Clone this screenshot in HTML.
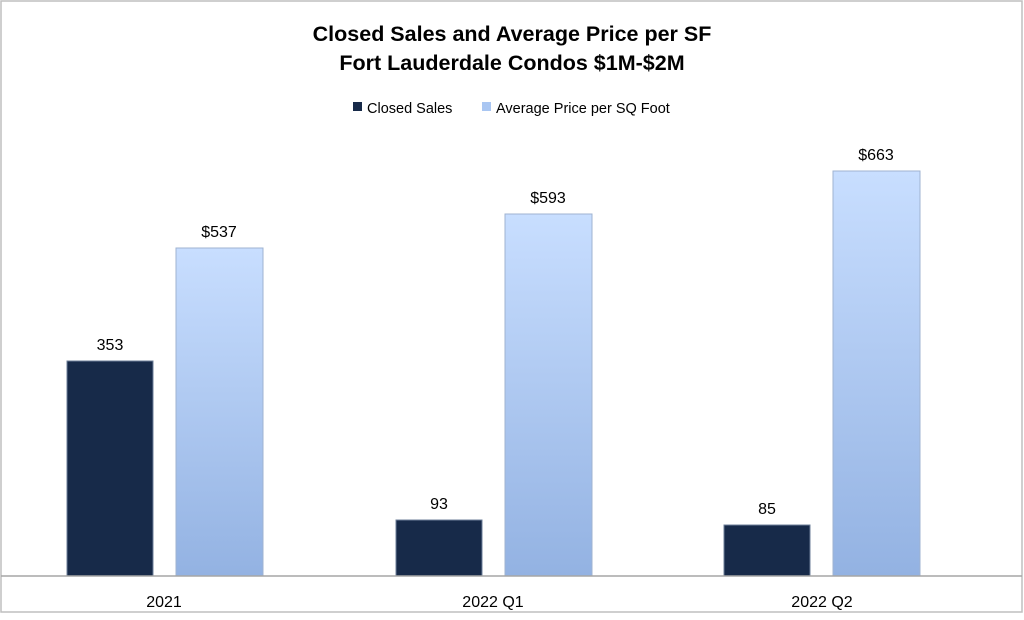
<!DOCTYPE html>
<html><head><style>
body{margin:0;background:#fff;}
svg text{font-family:"Liberation Sans",sans-serif;}
</style></head><body>
<svg width="1024" height="615" viewBox="0 0 1024 615" xmlns="http://www.w3.org/2000/svg">
<defs>
<linearGradient id="lg" x1="0" y1="0" x2="0" y2="1">
<stop offset="0" stop-color="#c8deff"/><stop offset="1" stop-color="#93b2e2"/></linearGradient>
</defs>
<rect x="1" y="1" width="1021" height="611" fill="#fff" stroke="#bfbfbf" stroke-width="1.5"/>
<text x="512" y="41" text-anchor="middle" font-size="21.5" font-weight="bold" fill="#000">Closed Sales and Average Price per SF</text>
<text x="512" y="70" text-anchor="middle" font-size="21.5" font-weight="bold" fill="#000">Fort Lauderdale Condos $1M-$2M</text>
<rect x="353" y="102" width="9" height="9" fill="#172a49"/>
<text x="367" y="113" font-size="14.5" fill="#000">Closed Sales</text>
<rect x="482" y="102" width="9" height="9" fill="#a9c6f2"/>
<text x="496" y="113" font-size="14.5" fill="#000">Average Price per SQ Foot</text>
<g stroke="#6d7f99" stroke-width="1">
<rect x="67" y="361" width="86" height="215" fill="#172a49"/>
<rect x="396" y="520" width="86" height="56" fill="#172a49"/>
<rect x="724" y="525" width="86" height="51" fill="#172a49"/>
<rect x="176" y="248" width="87" height="328" fill="url(#lg)" stroke="#9fb3d1"/>
<rect x="505" y="214" width="87" height="362" fill="url(#lg)" stroke="#9fb3d1"/>
<rect x="833" y="171" width="87" height="405" fill="url(#lg)" stroke="#9fb3d1"/>
</g>
<line x1="1" y1="576" x2="1022" y2="576" stroke="#a6a6a6" stroke-width="1.5"/>
<g font-size="16" fill="#000" text-anchor="middle">
<text x="110" y="350">353</text>
<text x="439" y="509">93</text>
<text x="767" y="514">85</text>
<text x="219" y="237">$537</text>
<text x="548" y="203">$593</text>
<text x="876" y="160">$663</text>
<text x="164" y="607">2021</text>
<text x="493" y="607">2022 Q1</text>
<text x="822" y="607">2022 Q2</text>
</g>
</svg>
</body></html>
